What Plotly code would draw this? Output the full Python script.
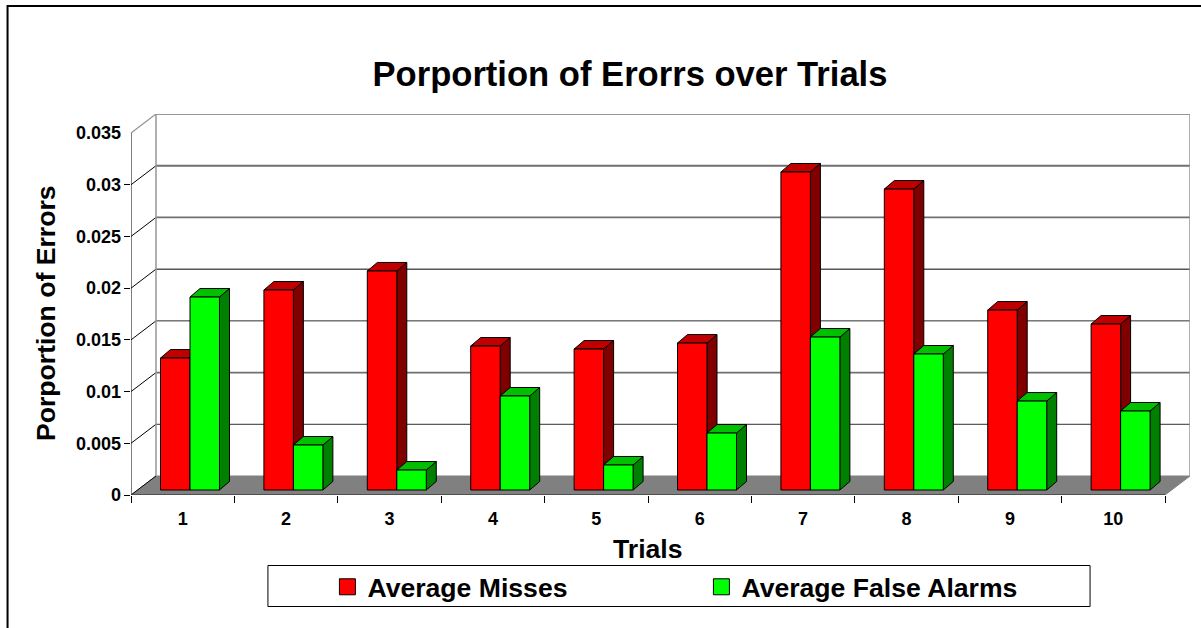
import plotly.graph_objects as go

W, H = 1201, 628

trials = [1, 2, 3, 4, 5, 6, 7, 8, 9, 10]
tick_vals = [0, 0.005, 0.01, 0.015, 0.02, 0.025, 0.03, 0.035]
tick_text = ["0", "0.005", "0.01", "0.015", "0.02", "0.025", "0.03", "0.035"]
misses = [0.01276, 0.01934, 0.02118, 0.01392, 0.01363, 0.01421, 0.03075, 0.0291, 0.0174, 0.01605]
false_alarms = [0.01866, 0.00435, 0.00193, 0.00909, 0.00242, 0.00551, 0.01479, 0.01315, 0.0086, 0.00764]

# pixel layout of the fake 3D box
L, R, T, B = 130.5, 1190, 114, 495
PX_X = 103.45  # px per category
PX_Y = 10342  # px per unit of y

wall_dx = 25 / PX_X
wall_dy = 19 / PX_Y
bar_dx = 10 / PX_X
bar_dy = 8.5 / PX_Y
bar_lift = 5 / PX_Y
bar_w = 29.5 / PX_X
pair_shift = 7.3 / PX_X

x_range = [0.5, 0.5 + (R - L) / PX_X]
y_range = [0, (B - T) / PX_Y]
x_end = 10.5

# the scan makes the wall lines look uneven, colour and width per line
grid_styles = [("#303030", 1), ("#707070", 1.6), ("#303030", 1), ("black", 1), ("#707070", 1.8), ("#707070", 1.8), ("#969696", 2)]


def paper_x(px):
    return (px - L) / (R - L)


def paper_y(px):
    return (B - px) / (B - T)


def faces(values, left):
    # side and top polygons of the bars, None between polygons
    side_x, side_y, top_x, top_y = [], [], [], []
    for t, v in zip(trials, values):
        x0 = t + pair_shift + left
        x1 = x0 + bar_w
        y0 = bar_lift
        y1 = bar_lift + v
        side_x += [x1, x1 + bar_dx, x1 + bar_dx, x1, x1, None]
        side_y += [y0, y0 + bar_dy, y1 + bar_dy, y1, y0, None]
        top_x += [x0, x0 + bar_dx, x1 + bar_dx, x1, x0, None]
        top_y += [y1, y1 + bar_dy, y1 + bar_dy, y1, y1, None]
    return side_x, side_y, top_x, top_y


def poly(xs, ys, fill, line="black", width=1):
    return go.Scatter(x=xs, y=ys, mode="lines", fill="toself", fillcolor=fill,
                      line=dict(color=line, width=width), showlegend=False,
                      hoverinfo="skip", cliponaxis=False)


def lines(xs, ys, color, width=1):
    return go.Scatter(x=xs, y=ys, mode="lines", line=dict(color=color, width=width),
                      showlegend=False, hoverinfo="skip", cliponaxis=False)


fig = go.Figure()

# floor
fig.add_trace(poly([0.5, 0.5 + wall_dx, x_end + wall_dx, x_end, 0.5],
                   [0, wall_dy, wall_dy, 0, 0], "#808080", "#808080", 1))

# back wall grid and the diagonals on the left wall
for v, (color, width) in zip(tick_vals[1:], grid_styles):
    fig.add_trace(lines([0.5 + wall_dx, x_end + wall_dx], [v + wall_dy, v + wall_dy], color, width))
diag_x, diag_y = [], []
for v in tick_vals[:-1]:
    diag_x += [0.5, 0.5 + wall_dx, None]
    diag_y += [v, v + wall_dy, None]
fig.add_trace(lines(diag_x, diag_y, "black", 1))
fig.add_trace(lines([0.5, 0.5 + wall_dx], [tick_vals[-1], tick_vals[-1] + wall_dy], "#969696", 1.3))
fig.add_trace(lines([0.5 + wall_dx, 0.5 + wall_dx], [wall_dy, tick_vals[-1] + wall_dy], "#969696", 1.5))
fig.add_trace(lines([x_end + wall_dx, x_end + wall_dx], [wall_dy, tick_vals[-1] + wall_dy], "#969696", 1.5))

# bar sides and tops, fronts go on the overlay so they stay on top
s_x, s_y, t_x, t_y = faces(misses, -bar_w)
fig.add_trace(poly(s_x, s_y, "#800000"))
fig.add_trace(poly(t_x, t_y, "#C00000"))
s_x, s_y, t_x, t_y = faces(false_alarms, 0)
fig.add_trace(poly(s_x, s_y, "#008000"))
fig.add_trace(poly(t_x, t_y, "#00C000"))

# front axis lines
fig.add_trace(lines([0.5, 0.5], [0, tick_vals[-1]], "black", 1))
fig.add_trace(lines([0.5, x_end], [0, 0], "#404040", 1.5))

fig.add_trace(go.Bar(x=trials, y=misses, base=bar_lift, width=bar_w, offset=pair_shift - bar_w,
                     marker=dict(color="#FF0000", line=dict(color="black", width=1)),
                     xaxis="x2", yaxis="y2", showlegend=False, name="Average Misses"))
fig.add_trace(go.Bar(x=trials, y=false_alarms, base=bar_lift, width=bar_w, offset=pair_shift,
                     marker=dict(color="#00FF00", line=dict(color="black", width=1)),
                     xaxis="x2", yaxis="y2", showlegend=False, name="Average False Alarms"))

# legend keys only
fig.add_trace(go.Scatter(x=[None], y=[None], mode="markers", name="Average Misses",
                         marker=dict(symbol="square", size=16, color="#FF0000", line=dict(color="black", width=1))))
fig.add_trace(go.Scatter(x=[None], y=[None], mode="markers", name="Average False Alarms",
                         marker=dict(symbol="square", size=16, color="#00FF00", line=dict(color="black", width=1))))

FONT = "Liberation Sans"
fig.update_layout(
    width=W, height=H, autosize=False,
    margin=dict(l=L, r=W - R, t=T, b=H - B),
    paper_bgcolor="white", plot_bgcolor="white",
    font=dict(family=FONT, color="black"),
    title=dict(text="<b>Porportion of Erorrs over Trials</b>", font=dict(size=34.6, family=FONT),
               x=630 / W, xanchor="center", y=1 - 74 / H, yanchor="middle"),
    xaxis=dict(range=x_range, showgrid=False, zeroline=False, showline=False, ticks="",
               tickvals=trials, ticktext=[str(t) for t in trials],
               tickfont=dict(size=18, family=FONT, weight="bold"), ticklabelstandoff=11,
               minor=dict(tickvals=[t - 0.5 for t in trials] + [x_end], ticks="outside",
                          ticklen=7, tickcolor="black", tickwidth=1)),
    yaxis=dict(range=y_range, showgrid=False, zeroline=False, showline=False, ticks="",
               tickvals=tick_vals, ticktext=tick_text,
               tickfont=dict(size=18, family=FONT, weight="bold"), ticklabelstandoff=9,
               minor=dict(tickvals=tick_vals[:-1], ticks="outside",
                          ticklen=6, tickcolor="black", tickwidth=1)),
    xaxis2=dict(range=x_range, overlaying="x", visible=False),
    yaxis2=dict(range=y_range, overlaying="y", visible=False),
    barmode="overlay",
    legend=dict(orientation="h", x=paper_x(327), xanchor="left", y=paper_y(587), yanchor="middle",
                bgcolor="rgba(0,0,0,0)", font=dict(size=26.6, family=FONT, weight="bold"),
                entrywidth=329, traceorder="normal", itemclick=False, itemdoubleclick=False),
    annotations=[
        dict(text="<b>Trials</b>", xref="paper", yref="paper", x=paper_x(647.5), y=paper_y(549),
             showarrow=False, xanchor="center", yanchor="middle", font=dict(size=26.6, family=FONT)),
        dict(text="<b>Porportion of Errors</b>", xref="paper", yref="paper", x=paper_x(45), y=paper_y(313.5),
             showarrow=False, xanchor="center", yanchor="middle", textangle=-90, font=dict(size=26.6, family=FONT)),
    ],
    shapes=[
        # chart frame, runs off the page on the right and at the bottom
        dict(type="rect", xref="paper", yref="paper", layer="below",
             x0=paper_x(7), x1=paper_x(1210), y0=paper_y(640), y1=paper_y(6),
             line=dict(color="black", width=2)),
        # legend box
        dict(type="rect", xref="paper", yref="paper", layer="below",
             x0=paper_x(267.5), x1=paper_x(1090), y0=paper_y(606.5), y1=paper_y(565.5),
             line=dict(color="black", width=1), fillcolor="white"),
    ],
)

# the reference fills the window, so drop the default body margin
fig.write_html("out.html", config={"displayModeBar": False},
               post_script="document.body.style.margin='0';document.body.style.overflow='hidden';")
